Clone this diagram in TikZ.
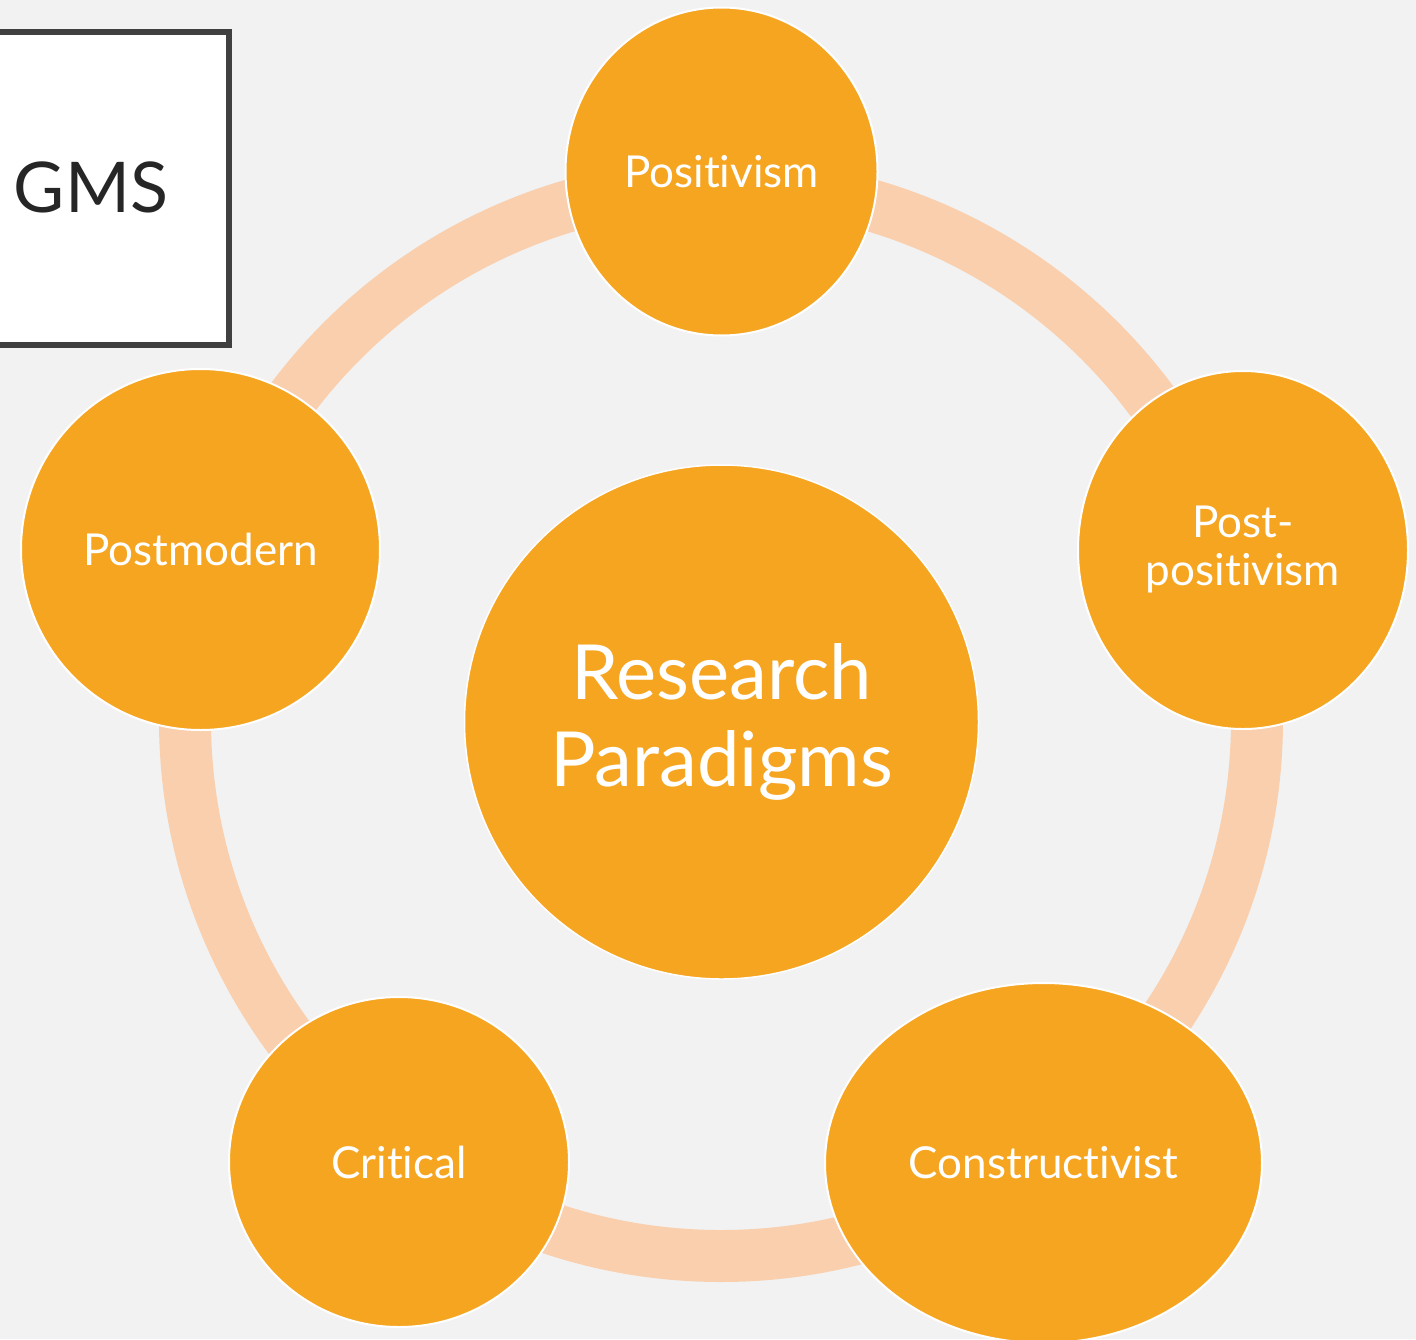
\documentclass[tikz,border=0pt]{standalone}
\usepackage{fontspec}
\setmainfont{Lato}[RawFeature={-liga;-dlig}]
\usetikzlibrary{shapes.geometric}
\definecolor{bg}{HTML}{F2F2F2}
\definecolor{orangefill}{HTML}{F6A521}
\definecolor{ringcol}{HTML}{F9CFAD}
\definecolor{boxborder}{HTML}{404040}
\definecolor{gmstext}{HTML}{262626}
\tikzset{
  sat/.style={ellipse, fill=orangefill, draw=white, line width=2pt, inner sep=0pt,
    text=white, align=center, font=\fontsize{44}{48}\selectfont},
  hub/.style={ellipse, fill=orangefill, draw=white, line width=1.5pt, inner sep=0pt,
    text=white, align=center, font=\fontsize{76}{87}\selectfont},
  ring/.style={draw=ringcol, line width=52pt},
  logobox/.style={draw=boxborder, fill=white, line width=6pt},
}
\begin{document}
\begin{tikzpicture}[x=1pt,y=-1pt]
  \useasboundingbox (0,0) rectangle (1416,1339);
  \fill[bg] (0,0) rectangle (1416,1339);
  % logo box
  \draw[logobox] (-20,32) rectangle (229,345);
  \node[anchor=base, text=gmstext, inner sep=0pt, font=\fontsize{70}{80}\selectfont] (gms) at (91,212) {GMS};
  % ring and hub
  \coordinate (ringc) at (721,720);
  \draw[ring] (ringc) circle[radius=536pt];
  \node[hub, minimum width=514pt, minimum height=514pt] (hub) at (721.5,722) {Research\\Paradigms};
  % satellites
  \node[sat, minimum width=312pt, minimum height=328pt] (pos) at (721.5,171.5) {Positivism};
  \node[sat, minimum width=330pt, minimum height=358pt] (postpos) at (1243,550) {Post-\\positivism};
  \node[sat, minimum width=359pt, minimum height=361pt] (postmod) at (200.5,549.5) {Postmodern};
  \node[sat, minimum width=340pt, minimum height=330pt] (crit) at (399,1162) {Critical};
  \node[sat, minimum width=437pt, minimum height=360pt] (cons) at (1043.5,1163) {Constructivist};
\end{tikzpicture}
\end{document}
